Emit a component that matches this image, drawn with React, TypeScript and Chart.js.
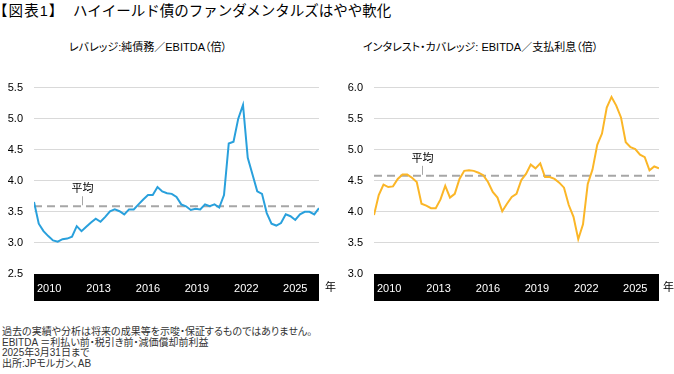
import React, { useEffect, useRef } from "react";
import { Chart, registerables } from "chart.js";

Chart.register(...registerables);

const FONT = '"Liberation Sans", Arial, "Noto Sans CJK JP", sans-serif';

// Quarterly observations (61 points)
const leverage = [
  3.66, 3.31, 3.19, 3.11, 3.04, 3.02, 3.06, 3.07, 3.10, 3.27,
  3.19, 3.26, 3.33, 3.39, 3.34, 3.42, 3.51, 3.54, 3.51, 3.46,
  3.54, 3.54, 3.62, 3.70, 3.77, 3.77, 3.90, 3.83, 3.80, 3.79,
  3.74, 3.62, 3.59, 3.53, 3.55, 3.54, 3.62, 3.59, 3.62, 3.57,
  3.77, 4.60, 4.63, 5.00, 5.22, 4.37, 4.10, 3.83, 3.79, 3.48,
  3.31, 3.28, 3.32, 3.46, 3.43, 3.37, 3.46, 3.50, 3.50, 3.46,
  3.56,
];

const coverage = [
  3.95, 4.27, 4.44, 4.40, 4.41, 4.53, 4.60, 4.60, 4.55, 4.48,
  4.13, 4.10, 4.06, 4.06, 4.20, 4.42, 4.23, 4.29, 4.53, 4.66,
  4.67, 4.66, 4.63, 4.59, 4.48, 4.32, 4.23, 4.01, 4.13, 4.24,
  4.29, 4.51, 4.61, 4.76, 4.70, 4.78, 4.56, 4.56, 4.53, 4.47,
  4.39, 4.11, 3.92, 3.56, 3.80, 4.45, 4.68, 5.08, 5.26, 5.68,
  5.85, 5.71, 5.52, 5.12, 5.04, 5.01, 4.92, 4.88, 4.67, 4.73,
  4.70,
];

const leverageAvg = 3.59;
const coverageAvg = 4.58;

const xTickLabels = ["2010", "2013", "2016", "2019", "2022", "2025"];
const xTickPositions = [3.2, 13.6, 24.0, 34.3, 44.7, 55.0];
const avgLabelPosition = 10;
const avgLabel = "平均";

const leverageRange = [2.5, 5.5];
const coverageRange = [3.0, 6.0];

type Props = {
  values: number[];
  avg: number;
  range: number[];
  color: string;
  left: number;
  width: number;
  padRight: number;
};

function LineChart({ values, avg, range, color, left, width, padRight }: Props) {
  const ref = useRef<HTMLCanvasElement>(null);
  useEffect(() => {
    const canvas = ref.current;
    if (!canvas) return;
    const bandH = 27;
    const decor = {
      id: "decor",
      beforeDraw(chart: any) {
        const { ctx, chartArea: a } = chart;
        ctx.save();
        ctx.fillStyle = "#000";
        ctx.fillRect(a.left, a.bottom, a.right - a.left, bandH);
        ctx.restore();
      },
      beforeDatasetsDraw(chart: any) {
        const { ctx, chartArea: a, scales } = chart;
        const y = scales.y.getPixelForValue(avg);
        ctx.save();
        ctx.strokeStyle = "#a6a6a6";
        ctx.lineWidth = 2;
        ctx.setLineDash([8, 5]);
        ctx.beginPath();
        ctx.moveTo(a.left, y);
        ctx.lineTo(a.right, y);
        ctx.stroke();
        ctx.setLineDash([]);
        const x = Math.round(scales.x.getPixelForValue(avgLabelPosition)) + 0.5;
        ctx.lineWidth = 1;
        ctx.strokeStyle = "#a6a6a6";
        ctx.beginPath();
        ctx.moveTo(x, y - 10);
        ctx.lineTo(x, y - 1);
        ctx.stroke();
        ctx.fillStyle = "#000";
        ctx.font = `11px ${FONT}`;
        ctx.textAlign = "center";
        ctx.textBaseline = "middle";
        ctx.fillText(avgLabel, x, y - 17);
        ctx.restore();
      },
    };
    const chart = new Chart(canvas, {
      type: "line",
      data: {
        datasets: [
          {
            data: values.map((v, i) => ({ x: i, y: v })),
            borderColor: color,
            borderWidth: 2,
            pointRadius: 0,
            tension: 0,
            fill: false,
          },
        ],
      },
      options: {
        responsive: false,
        animation: false,
        devicePixelRatio: 1,
        layout: { padding: { left: 0, right: padRight, top: 17, bottom: 9 } },
        plugins: { legend: { display: false }, tooltip: { enabled: false } },
        scales: {
          x: {
            type: "linear",
            min: 0,
            max: values.length - 1,
            grid: { display: false },
            border: { display: false },
            afterBuildTicks: (s: any) => {
              s.ticks = xTickPositions.map((v) => ({ value: v }));
            },
            afterFit: (s: any) => {
              s.height = bandH;
            },
            ticks: {
              color: "#fff",
              font: { size: 11, family: FONT },
              padding: 0,
              autoSkip: false,
              maxRotation: 0,
              callback: (_v: any, i: number) => xTickLabels[i],
            },
          },
          y: {
            min: range[0],
            max: range[1],
            grid: {
              drawTicks: false,
              color: (c: any) =>
                c.tick && c.tick.value === range[0] ? "rgba(0,0,0,0)" : "#d9d9d9",
            },
            border: { display: false },
            afterFit: (s: any) => {
              s.width = 34;
            },
            ticks: {
              stepSize: 0.5,
              color: "#000",
              padding: 11,
              font: { size: 11, family: FONT },
              callback: (v: any) => Number(v).toFixed(1),
            },
          },
        },
      },
      plugins: [decor],
    } as any);
    return () => chart.destroy();
  }, []);
  return (
    <canvas
      ref={ref}
      width={width}
      height={240}
      style={{ position: "absolute", left, top: 70, width, height: 240 }}
    />
  );
}

const textBase: React.CSSProperties = {
  position: "absolute",
  fontFamily: FONT,
  fontFeatureSettings: '"palt"',
  whiteSpace: "nowrap",
  lineHeight: 1,
  color: "#000",
};

export default function App() {
  return (
    <div
      style={{
        position: "absolute",
        left: 0,
        top: 0,
        width: 674,
        height: 374,
        background: "#fff",
        overflow: "hidden",
      }}
    >
      <div style={{ ...textBase, left: 0, top: 4, fontSize: 14.5, letterSpacing: 1.2 }}>
        【図表1】
      </div>
      <div
        style={{
          ...textBase,
          left: 73,
          top: 4,
          fontSize: 14.5,
          fontFeatureSettings: "normal",
        }}
      >
        ハイイールド債のファンダメンタルズはやや軟化
      </div>
      <div style={{ ...textBase, left: 69, top: 42, fontSize: 11 }}>
        レバレッジ:純債務／EBITDA（倍）
      </div>
      <div style={{ ...textBase, left: 363, top: 42, fontSize: 11 }}>
        インタレスト・カバレッジ: EBITDA／支払利息（倍）
      </div>
      <LineChart
        values={leverage}
        avg={leverageAvg}
        range={leverageRange}
        color="#29a0dc"
        left={0}
        width={340}
        padRight={21}
      />
      <LineChart
        values={coverage}
        avg={coverageAvg}
        range={coverageRange}
        color="#fbb627"
        left={340}
        width={334}
        padRight={15}
      />
      <div style={{ ...textBase, left: 325, top: 282, fontSize: 11 }}>年</div>
      <div style={{ ...textBase, left: 663, top: 282, fontSize: 11 }}>年</div>
      <div
        style={{
          ...textBase,
          left: 2,
          top: 327,
          fontSize: 10,
          lineHeight: "10.5px",
          color: "#333",
        }}
      >
        <div>過去の実績や分析は将来の成果等を示唆・保証するものではありません。</div>
        <div>EBITDA ＝利払い前・税引き前・減価償却前利益</div>
        <div>2025年3月31日まで</div>
        <div>出所:JPモルガン、AB</div>
      </div>
    </div>
  );
}
